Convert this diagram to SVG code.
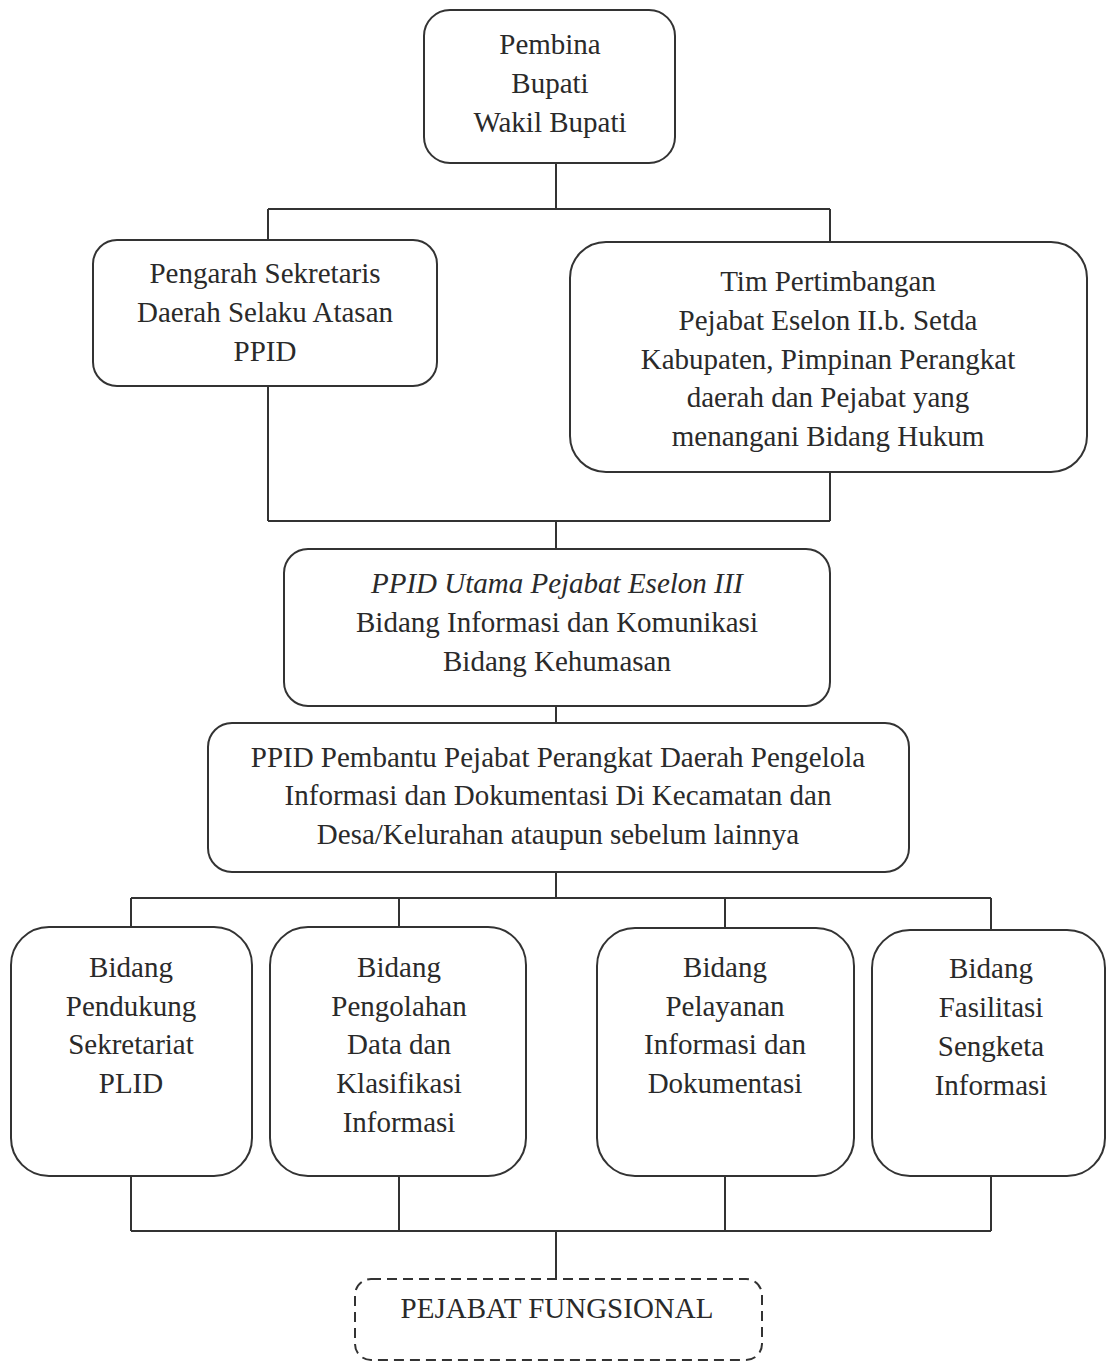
<svg xmlns="http://www.w3.org/2000/svg" width="1107" height="1362" viewBox="0 0 1107 1362">
<style>
.box{fill:#fff;stroke:#333;stroke-width:2}
.dash{fill:none;stroke:#333;stroke-width:2;stroke-dasharray:10 6}
.ln{fill:none;stroke:#333;stroke-width:2}
text{font-family:"Liberation Serif","Times New Roman",serif;font-size:29px;fill:#2a2a2a;text-anchor:middle}
.it{font-style:italic}
</style>
<rect width="1107" height="1362" fill="#fff"/>
<g id="connectors">
<path class="ln" d="M556,163 V209 M268,209 H830 M268,209 V240 M830,209 V242"/>
<path class="ln" d="M268,386 V521 M830,472 V521 M268,521 H830 M556,521 V549"/>
<path class="ln" d="M556,706 V723"/>
<path class="ln" d="M556,872 V898 M131,898 H991 M131,898 V927 M399,898 V927 M725,898 V928 M991,898 V930"/>
<path class="ln" d="M131,1176 V1231 M399,1176 V1231 M725,1176 V1231 M991,1176 V1231 M131,1231 H991 M556,1231 V1279"/>
</g>
<g id="pembina">
<rect class="box" x="424" y="10" width="251" height="153" rx="26"/>
<text x="550" y="54">Pembina</text>
<text x="550" y="93">Bupati</text>
<text x="550" y="132">Wakil Bupati</text>
</g>
<g id="pengarah">
<rect class="box" x="93" y="240" width="344" height="146" rx="24"/>
<text x="265" y="283">Pengarah Sekretaris</text>
<text x="265" y="322">Daerah Selaku Atasan</text>
<text x="265" y="361">PPID</text>
</g>
<g id="tim">
<rect class="box" x="570" y="242" width="517" height="230" rx="36"/>
<text x="828" y="291">Tim Pertimbangan</text>
<text x="828" y="330">Pejabat Eselon II.b. Setda</text>
<text x="828" y="369">Kabupaten, Pimpinan Perangkat</text>
<text x="828" y="407">daerah dan Pejabat yang</text>
<text x="828" y="446">menangani Bidang Hukum</text>
</g>
<g id="ppid-utama">
<rect class="box" x="284" y="549" width="546" height="157" rx="24"/>
<text class="it" x="557" y="593">PPID Utama Pejabat Eselon III</text>
<text x="557" y="632">Bidang Informasi dan Komunikasi</text>
<text x="557" y="671">Bidang Kehumasan</text>
</g>
<g id="ppid-pembantu">
<rect class="box" x="208" y="723" width="701" height="149" rx="24"/>
<text x="558" y="767">PPID Pembantu Pejabat Perangkat Daerah Pengelola</text>
<text x="558" y="805">Informasi dan Dokumentasi Di Kecamatan dan</text>
<text x="558" y="844">Desa/Kelurahan ataupun sebelum lainnya</text>
</g>
<g id="bidang-pendukung">
<rect class="box" x="11" y="927" width="241" height="249" rx="38"/>
<text x="131" y="977">Bidang</text>
<text x="131" y="1016">Pendukung</text>
<text x="131" y="1054">Sekretariat</text>
<text x="131" y="1093">PLID</text>
</g>
<g id="bidang-pengolahan">
<rect class="box" x="270" y="927" width="256" height="249" rx="38"/>
<text x="399" y="977">Bidang</text>
<text x="399" y="1016">Pengolahan</text>
<text x="399" y="1054">Data dan</text>
<text x="399" y="1093">Klasifikasi</text>
<text x="399" y="1132">Informasi</text>
</g>
<g id="bidang-pelayanan">
<rect class="box" x="597" y="928" width="257" height="248" rx="38"/>
<text x="725" y="977">Bidang</text>
<text x="725" y="1016">Pelayanan</text>
<text x="725" y="1054">Informasi dan</text>
<text x="725" y="1093">Dokumentasi</text>
</g>
<g id="bidang-fasilitasi">
<rect class="box" x="872" y="930" width="233" height="246" rx="38"/>
<text x="991" y="978">Bidang</text>
<text x="991" y="1017">Fasilitasi</text>
<text x="991" y="1056">Sengketa</text>
<text x="991" y="1095">Informasi</text>
</g>
<g id="pejabat-fungsional">
<rect class="dash" x="355" y="1279" width="407" height="81" rx="16"/>
<text x="557" y="1318">PEJABAT FUNGSIONAL</text>
</g>
</svg>
